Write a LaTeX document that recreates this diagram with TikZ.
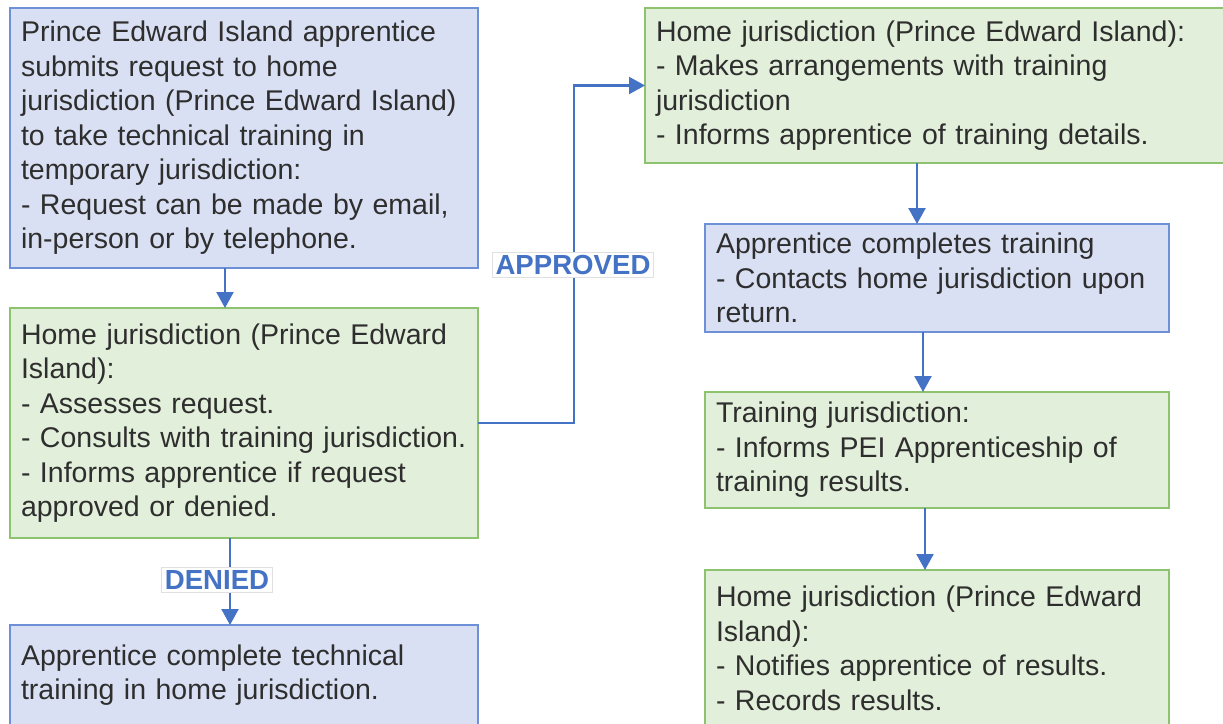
\documentclass[tikz,border=0pt]{standalone}
\usepackage{fontspec}
\setmainfont{Liberation Sans}
\usetikzlibrary{arrows.meta}
\definecolor{bluefill}{HTML}{DAE0F3}
\definecolor{blueline}{HTML}{6E90D8}
\definecolor{greenfill}{HTML}{E2EFDA}
\definecolor{greenline}{HTML}{8DC26F}
\definecolor{flowblue}{HTML}{4472C4}
\begin{document}
\begin{tikzpicture}[x=1pt,y=-1pt,>={Triangle[length=16pt,width=17pt]},
  box/.style={draw,line width=1.8pt,anchor=north west,align=left,inner xsep=11pt,inner ysep=0pt,
    outer sep=0pt,text=black!82,font=\fontsize{28.5}{34.5}\selectfont},
  bluebox/.style={box,fill=bluefill,draw=blueline},
  greenbox/.style={box,fill=greenfill,draw=greenline},
  flow/.style={->,draw=flowblue,line width=2.2pt},
  tag/.style={fill=white,draw=black!12,line width=0.8pt,text=flowblue,inner sep=3pt,
    font=\fontsize{27.6}{30}\selectfont\bfseries}]
  \useasboundingbox (0,0) rectangle (1223,723);
  \node[bluebox,text width=446pt,minimum height=260pt] (req) at (10,8)
    {Prince Edward Island apprentice\\submits request to home\\jurisdiction (Prince Edward Island)\\to take technical training in\\temporary jurisdiction:\\- Request can be made by email,\\in-person or by telephone.};
  \node[greenbox,text width=446pt,minimum height=230pt] (assess) at (10,308)
    {Home jurisdiction (Prince Edward\\Island):\\- Assesses request.\\- Consults with training jurisdiction.\\- Informs apprentice if request\\approved or denied.};
  \node[bluebox,text width=446pt,minimum height=100pt] (local) at (10,625)
    {Apprentice complete technical\\training in home jurisdiction.};
  \node[greenbox,text width=558pt,minimum height=155pt] (arrange) at (645,8)
    {Home jurisdiction (Prince Edward Island):\\- Makes arrangements with training\\jurisdiction\\- Informs apprentice of training details.};
  \node[bluebox,text width=442pt,minimum height=108pt] (complete) at (705,224)
    {Apprentice completes training\\- Contacts home jurisdiction upon\\return.};
  \node[greenbox,text width=442pt,minimum height=116pt] (results) at (705,392)
    {Training jurisdiction:\\- Informs PEI Apprenticeship of\\training results.};
  \node[greenbox,text width=442pt,minimum height=157pt] (notify) at (705,570)
    {Home jurisdiction (Prince Edward\\Island):\\- Notifies apprentice of results.\\- Records results.};

  \draw[flow] ([xshift=215pt]req.south west) -- ([xshift=215pt]assess.north west);
  \draw[flow] ([xshift=220pt]assess.south west) -- ([xshift=220pt]local.north west);
  \draw[flow] (assess.east) -- ++(96,0) |- (arrange.west);
  \draw[flow] ([xshift=272pt]arrange.south west) -- ([xshift=212pt]complete.north west);
  \draw[flow] ([xshift=218pt]complete.south west) -- ([xshift=218pt]results.north west);
  \draw[flow] ([xshift=220pt]results.south west) -- ([xshift=220pt]notify.north west);

  \node[tag] (approved) at (573,265) {APPROVED};
  \node[tag] (denied) at (217,580) {DENIED};
\end{tikzpicture}
\end{document}
